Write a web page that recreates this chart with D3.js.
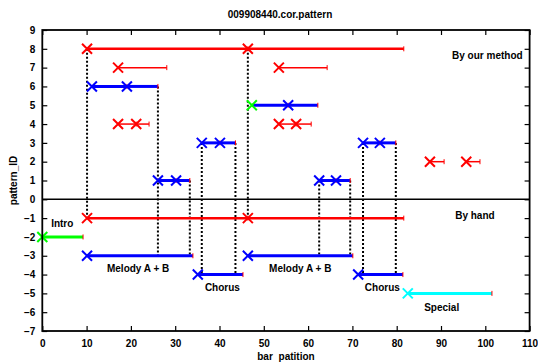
<!DOCTYPE html>
<html>
<head>
<meta charset="utf-8">
<script src="https://cdn.jsdelivr.net/npm/d3@7"></script>
<style>
  body { margin: 0; background: #fff; }
  text { font-family: "Liberation Sans", Arial, sans-serif; font-weight: bold; font-size: 10px; fill: #000; }
</style>
</head>
<body>
<script>
// data
const titleText = "009908440.cor.pattern";
const xTicks = [0, 10, 20, 30, 40, 50, 60, 70, 80, 90, 100, 110];
const yTicks = [-7, -6, -5, -4, -3, -2, -1, 0, 1, 2, 3, 4, 5, 6, 7, 8, 9];

// horizontal bars: [xFrom, xTo, patternID, kind]
const segments = [
  [10.1, 46.4, 8, "r"], [46.4, 81.6, 8, "r"],
  [17.1, 28.1, 7, "rt"], [53.4, 64.3, 7, "rt"],
  [11.2, 19.1, 6, "b"], [19.1, 26.1, 6, "b"],
  [47.3, 55.5, 5, "b"], [55.5, 62.2, 5, "b"],
  [17.1, 21.2, 4, "rt"], [21.2, 24.1, 4, "rt"],
  [53.4, 57.3, 4, "rt"], [57.3, 60.7, 4, "rt"],
  [36.0, 40.1, 3, "b"], [40.1, 43.6, 3, "b"],
  [72.4, 76.2, 3, "b"], [76.2, 79.8, 3, "b"],
  [87.5, 90.7, 2, "rt"], [95.7, 98.8, 2, "rt"],
  [26.1, 30.2, 1, "b"], [30.2, 33.3, 1, "b"],
  [62.5, 66.3, 1, "b"], [66.3, 69.5, 1, "b"],
  [10.1, 46.4, -1, "r"], [46.4, 81.6, -1, "r"],
  [0, 9.2, -2, "g"],
  [10.1, 34.0, -3, "b"], [46.4, 70.1, -3, "b"],
  [35.1, 45.3, -4, "b"], [71.3, 81.4, -4, "b"],
  [82.5, 101.5, -5, "c"]
];

// X markers: [x, patternID, kind]
const points = [
  [10.1, 8, "r"], [46.4, 8, "r"], [17.1, 7, "r"], [53.4, 7, "r"],
  [11.2, 6, "b"], [19.1, 6, "b"], [47.3, 5, "g"], [55.5, 5, "b"],
  [17.1, 4, "r"], [21.2, 4, "r"], [53.4, 4, "r"], [57.3, 4, "r"],
  [36.0, 3, "b"], [40.1, 3, "b"], [72.4, 3, "b"], [76.2, 3, "b"],
  [87.5, 2, "r"], [95.7, 2, "r"],
  [26.1, 1, "b"], [30.2, 1, "b"], [62.5, 1, "b"], [66.3, 1, "b"],
  [10.1, -1, "r"], [46.4, -1, "r"], [0, -2, "g"],
  [10.1, -3, "b"], [46.4, -3, "b"], [35.1, -4, "b"], [71.3, -4, "b"],
  [82.5, -5, "c"]
];

// dotted links: [x, fromID, toID]
const links = [
  [10.1, 8, -1], [26.1, 6, -3], [33.3, 1, -3], [36.0, 3, -4], [43.6, 3, -4],
  [46.4, 8, -1], [62.5, 1, -3], [69.5, 1, -3], [72.4, 3, -4], [79.8, 3, -4]
];

// text labels: [text, x, patternID]
const labels = [
  ["By our method", 92.5, 7.62], ["By hand", 93.2, -0.86],
  ["Intro", 2.0, -1.3], ["Melody A + B", 14.6, -3.68], ["Chorus", 36.7, -4.69],
  ["Melody A + B", 51.2, -3.68], ["Chorus", 72.8, -4.69], ["Special", 86.2, -5.75]
];

const colors = { r: "#ff0000", rt: "#ff0000", b: "#0000ff", g: "#00ff00", c: "#00ffff" };
const widths = { r: 2.5, rt: 1.5, b: 3, g: 3, c: 3 };

const W = 538, H = 363;
const mLeft = 42.3, mRight = 529.6, mTop = 30, mBottom = 331;

const svg = d3.select("body").append("svg").attr("width", W).attr("height", H);

const x = d3.scaleLinear().domain([0, 110]).range([mLeft, mRight]);
const y = d3.scaleLinear().domain([-7, 9]).range([mBottom, mTop]);

// axes with inward ticks
const axisStyle = g => {
  g.select(".domain").remove();
  g.selectAll(".tick line").attr("stroke", "#000").attr("stroke-width", 1.2);
  g.selectAll(".tick text").attr("font-size", "10px").attr("font-family", null).attr("fill", "#000");
};

svg.append("g").attr("transform", `translate(0,${mBottom})`)
  .call(d3.axisBottom(x).tickValues(xTicks).tickSizeInner(-5).tickSizeOuter(0).tickPadding(9))
  .call(axisStyle);
svg.append("g").attr("transform", `translate(0,${mTop})`)
  .call(d3.axisTop(x).tickValues(xTicks).tickSizeInner(-5).tickSizeOuter(0).tickFormat(""))
  .call(axisStyle);
svg.append("g").attr("transform", `translate(${mLeft},0)`)
  .call(d3.axisLeft(y).tickValues(yTicks).tickSizeInner(-5).tickSizeOuter(0).tickPadding(7))
  .call(axisStyle);
svg.append("g").attr("transform", `translate(${mRight},0)`)
  .call(d3.axisRight(y).tickValues(yTicks).tickSizeInner(-5).tickSizeOuter(0).tickFormat(""))
  .call(axisStyle);

// zero line
svg.append("line")
  .attr("x1", mLeft).attr("x2", mRight).attr("y1", y(0)).attr("y2", y(0))
  .attr("stroke", "#000").attr("stroke-width", 1.5);

// dotted links
svg.append("g").selectAll("line").data(links).enter().append("line")
  .attr("x1", d => x(d[0])).attr("x2", d => x(d[0]))
  .attr("y1", d => y(d[1])).attr("y2", d => y(d[2]))
  .attr("stroke", "#000").attr("stroke-width", 2).attr("stroke-dasharray", "2,2");

// bars
svg.append("g").selectAll("line").data(segments).enter().append("line")
  .attr("x1", d => x(d[0])).attr("x2", d => x(d[1]))
  .attr("y1", d => y(d[2])).attr("y2", d => y(d[2]))
  .attr("stroke", d => colors[d[3]]).attr("stroke-width", d => widths[d[3]]);

// bar end ticks
svg.append("g").selectAll("line").data(segments).enter().append("line")
  .attr("x1", d => x(d[1])).attr("x2", d => x(d[1]))
  .attr("y1", d => y(d[2]) - 2.5).attr("y2", d => y(d[2]) + 2.5)
  .attr("stroke", "#ff0000").attr("stroke-width", 1);

// X markers
const s = 5;
svg.append("g").selectAll("path").data(points).enter().append("path")
  .attr("d", d => {
    const cx = x(d[0]), cy = y(d[1]);
    return `M${cx - s},${cy - s}L${cx + s},${cy + s}M${cx - s},${cy + s}L${cx + s},${cy - s}`;
  })
  .attr("stroke", d => colors[d[2]]).attr("stroke-width", 2).attr("fill", "none");

// border
svg.append("rect")
  .attr("x", mLeft).attr("y", mTop).attr("width", mRight - mLeft).attr("height", mBottom - mTop)
  .attr("fill", "none").attr("stroke", "#000").attr("stroke-width", 1.8);

// labels
svg.append("g").selectAll("text").data(labels).enter().append("text")
  .attr("x", d => x(d[1])).attr("y", d => y(d[2]))
  .attr("dy", "0.35em")
  .text(d => d[0]);

// title and axis titles
svg.append("text").attr("x", 280).attr("y", 18).attr("text-anchor", "middle").text(titleText);
svg.append("text").attr("x", (mLeft + mRight) / 2).attr("y", 360).attr("text-anchor", "middle")
  .attr("word-spacing", "3px").text("bar patition");
svg.append("text").attr("transform", `translate(17,${(mTop + mBottom) / 2}) rotate(-90)`)
  .attr("text-anchor", "middle").text("pattern_ID");
</script>
</body>
</html>
